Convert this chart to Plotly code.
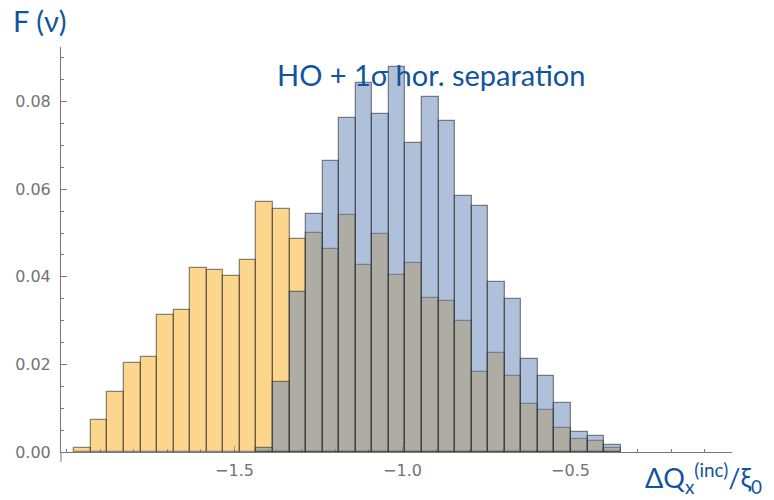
import plotly.graph_objects as go

# Histogram bins (centres) of the normalised tune shift
bin_centers = [-1.9522, -1.9029, -1.8536, -1.8043, -1.7551, -1.7058, -1.6565,
               -1.6072, -1.5579, -1.5087, -1.4594, -1.4101, -1.3608, -1.3115,
               -1.2623, -1.2130, -1.1637, -1.1144, -1.0651, -1.0158, -0.9666,
               -0.9173, -0.8680, -0.8187, -0.7694, -0.7202, -0.6709, -0.6216,
               -0.5723, -0.5230, -0.4738, -0.4245, -0.3752]
bin_width = 0.0493

# Frequency per bin, head-on only (orange) and head-on + 1 sigma separation (blue)
freq_ho = [0.0009, 0.0074, 0.0136, 0.0204, 0.0218, 0.0314, 0.0325, 0.0420,
           0.0416, 0.0402, 0.0438, 0.0570, 0.0555, 0.0486, 0.0501, 0.0464,
           0.0541, 0.0427, 0.0497, 0.0405, 0.0431, 0.0351, 0.0344, 0.0300,
           0.0183, 0.0226, 0.0173, 0.0110, 0.0095, 0.0055, 0.0030, 0.0024,
           0.0009]
freq_sep = [None, None, None, None, None, None, None, None, None, None, None,
            0.0009, 0.0161, 0.0365, 0.0544, 0.0665, 0.0763, 0.0843, 0.0771,
            0.0880, 0.0705, 0.0810, 0.0756, 0.0585, 0.0563, 0.0388, 0.0350,
            0.0212, 0.0173, 0.0113, 0.0045, 0.0037, 0.0015]

y_ticks = [0.0, 0.02, 0.04, 0.06, 0.08]
y_tick_text = ["0.00", "0.02", "0.04", "0.06", "0.08"]
x_ticks = [-1.5, -1.0, -0.5]
x_tick_text = ["\u22121.5", "\u22121.0", "\u22120.5"]

W, H = 774, 500
ML, MR, MT, MB = 61, 42, 47, 48
PW, PH = W - ML - MR, H - MT - MB
TEXT_BLUE = "rgb(17,84,158)"
AXIS_GRAY = "rgb(120,120,120)"
EDGE = "rgba(45,45,45,0.55)"


def px(x):
    return (x - ML) / PW


def py(y):
    return (H - MB - y) / PH


fig = go.Figure()
fig.add_trace(go.Bar(
    x=bin_centers, y=freq_ho, width=bin_width,
    marker=dict(color="rgba(251,173,29,0.5)", line=dict(color=EDGE, width=1.3)),
    showlegend=False, hoverinfo="skip"))
fig.add_trace(go.Bar(
    x=bin_centers, y=freq_sep, width=bin_width,
    marker=dict(color="rgba(95,129,183,0.5)", line=dict(color=EDGE, width=1.3)),
    showlegend=False, hoverinfo="skip"))

tick_font = dict(family="DejaVu Sans", size=16, color="rgb(115,115,115)")

fig.update_layout(
    width=W, height=H,
    margin=dict(l=ML, r=MR, t=MT, b=MB, pad=0),
    barmode="overlay", bargap=0,
    paper_bgcolor="white", plot_bgcolor="white",
    xaxis=dict(
        range=[-2.0164, -0.0193], showgrid=False, zeroline=False,
        showline=True, linecolor=AXIS_GRAY, linewidth=1,
        tickmode="array", tickvals=x_ticks, ticktext=x_tick_text,
        ticks="inside", ticklen=6, tickcolor=AXIS_GRAY, tickwidth=1,
        minor=dict(dtick=0.1, tick0=-2.0, ticks="inside", ticklen=3,
                   tickcolor=AXIS_GRAY, tickwidth=1),
        tickfont=tick_font, ticklabelstandoff=4, layer="below traces"),
    yaxis=dict(
        range=[0, 0.0925], showgrid=False, zeroline=False,
        showline=True, linecolor=AXIS_GRAY, linewidth=1,
        tickmode="array", tickvals=y_ticks, ticktext=y_tick_text,
        ticks="inside", ticklen=6, tickcolor=AXIS_GRAY, tickwidth=1,
        minor=dict(dtick=0.005, tick0=0, ticks="inside", ticklen=3,
                   tickcolor=AXIS_GRAY, tickwidth=1),
        tickfont=tick_font, ticklabelstandoff=6, layer="below traces"),
    shapes=[dict(type="line", xref="paper", yref="paper",
                 x0=0, x1=0, y0=0, y1=-10 / PH,
                 line=dict(color=AXIS_GRAY, width=1))],
)

title_font = dict(family="Lato", size=29, color=TEXT_BLUE)
axis_font = dict(family="Lato", size=27, color=TEXT_BLUE)
fig.add_annotation(text="F (\u03bd)", xref="paper", yref="paper",
                   x=px(11), y=py(21), xanchor="left", yanchor="middle",
                   showarrow=False, font=title_font)
fig.add_annotation(text="HO + 1\u03c3 hor. separation", xref="paper", yref="paper",
                   x=px(275), y=py(74), xanchor="left", yanchor="middle",
                   showarrow=False, font=title_font)
fig.add_annotation(text="\u0394Q<sub>x</sub><sup>(inc)</sup>/\u03be<sub>0</sub>",
                   xref="paper", yref="paper",
                   x=px(643), y=py(478), xanchor="left", yanchor="middle",
                   showarrow=False, font=axis_font)

fig.write_html("out.html")
